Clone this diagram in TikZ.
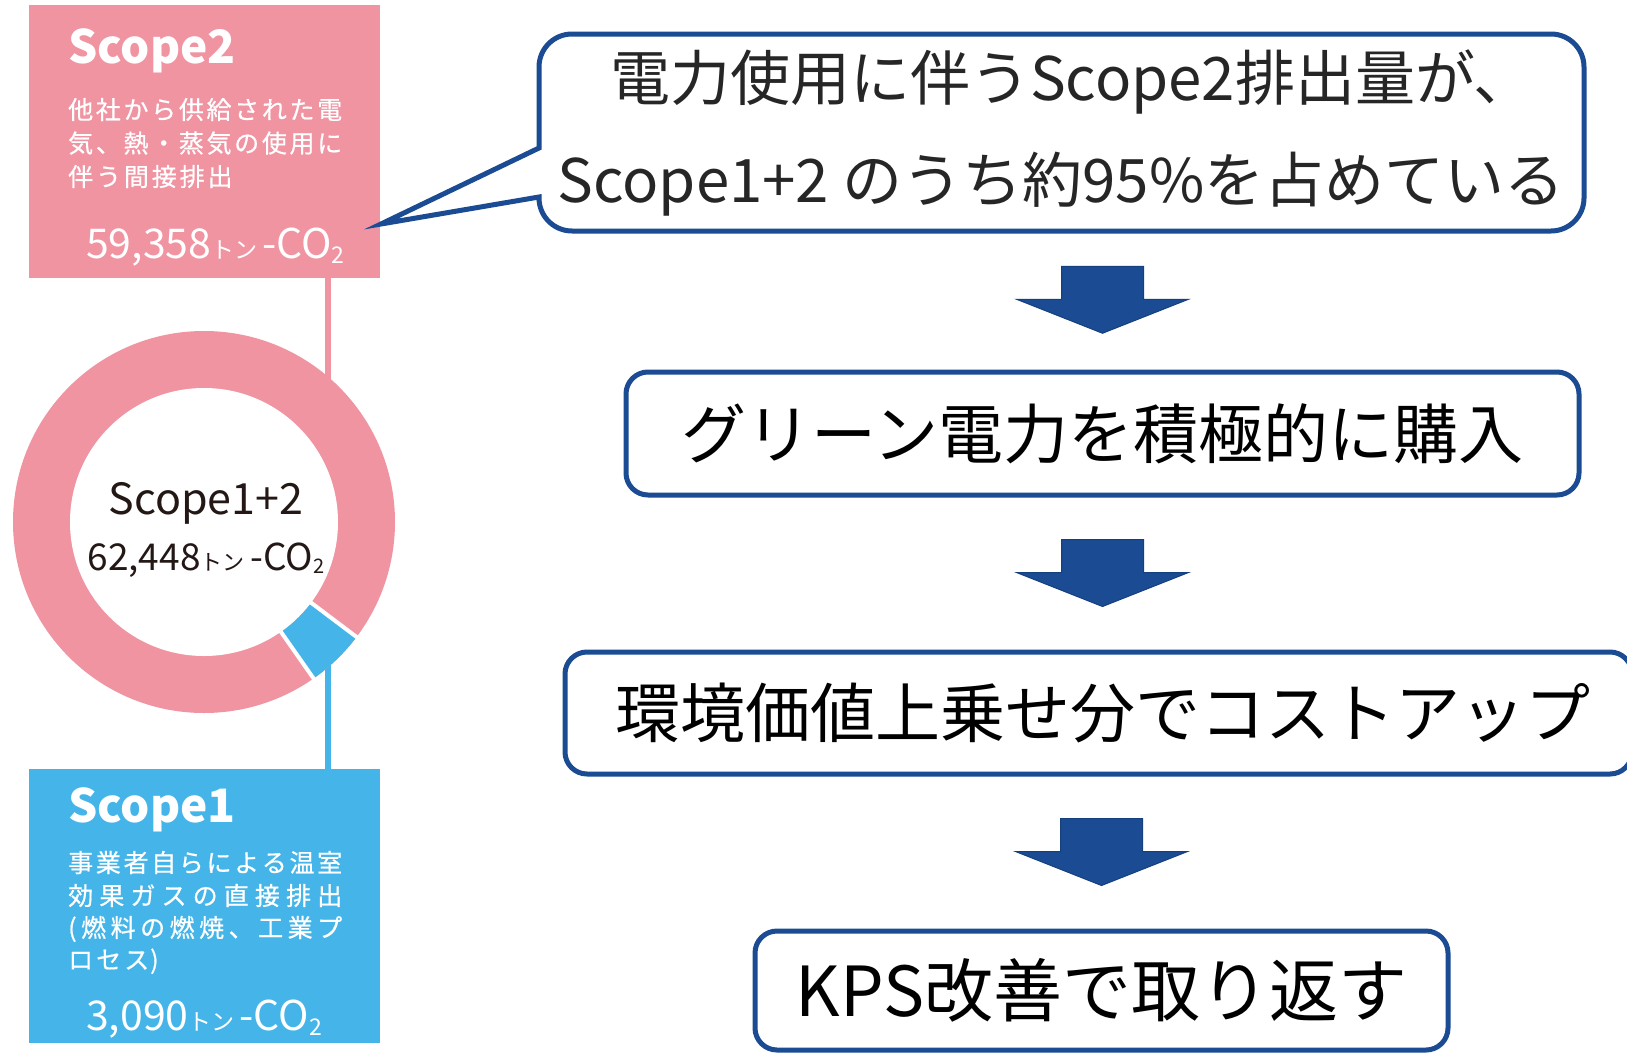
\documentclass[tikz,border=0pt]{standalone}
\usepackage{fontspec}
\setmainfont{Noto Sans CJK JP}
\usetikzlibrary{calc}
\definecolor{pinkc}{RGB}{240,148,162}
\definecolor{cyanc}{RGB}{69,181,233}
\definecolor{navyc}{RGB}{26,75,147}
\definecolor{calltxt}{RGB}{38,38,38}
\definecolor{ringtxt}{RGB}{35,24,21}
\newcommand\spreadln[1]{\makebox[274pt][s]{#1}}
\tikzset{
  panel/.style={inner sep=0, anchor=north west, minimum width=351, minimum height=273},
  heading/.style={inner sep=0, anchor=base west, text=white, font=\fontsize{46}{52}\selectfont\bfseries},
  desc/.style={inner sep=0, anchor=base west, text=white, font=\fontsize{25}{30}\selectfont\addfontfeature{FakeBold=0.6}},
  amount/.style={inner sep=0, anchor=base west, text=white},
  linkline/.style={line width=6},
  flowbox/.style={draw=navyc, line width=5, rounded corners=22, fill=white, inner sep=0,
     text=black, font=\fontsize{65}{78}\selectfont},
  calloutline/.style={draw=navyc, line width=5, fill=white, line join=miter},
  calltext/.style={inner sep=0, text=calltxt, font=\fontsize{60}{72}\selectfont},
  blockarrow/.pic={\path[fill=navyc, draw=navyc!85!black, line width=1]
     (-41,-34) -- (41,-34) -- (41,-1) -- (86,-1) -- (0,33) -- (-86,-1) -- (-41,-1) -- cycle;},
}
\begin{document}
\begin{tikzpicture}[x=1pt,y=-1pt]
\clip (0,0) rectangle (1627,1052);
\fill[white] (0,0) rectangle (1627,1052);

% ---- Scope2 panel
\node[panel, fill=pinkc] (s2) at (29,5) {};
\node[heading] (s2h) at (68,63) {Scope2};
\node[desc] (s2d1) at (68,119) {\spreadln{他\hfil 社\hfil か\hfil ら\hfil 供\hfil 給\hfil さ\hfil れ\hfil た\hfil 電}};
\node[desc] (s2d2) at (68,152.5) {\spreadln{気\hfil 、\hfil 熱\hfil ・\hfil 蒸\hfil 気\hfil の\hfil 使\hfil 用\hfil に}};
\node[desc] (s2d3) at (68,186) {\makebox[164.4pt][s]{伴\hfil う\hfil 間\hfil 接\hfil 排\hfil 出}\hphantom{x}};
\node[amount] (s2a) at (86,258) {\fontsize{41}{48}\selectfont 59,358{\fontsize{23}{26}\selectfont トン}\hspace{5pt}-CO\raisebox{-5pt}{\fontsize{23}{26}\selectfont 2}};

% ---- Scope1 panel
\node[panel, fill=cyanc, minimum height=274] (s1) at (29,769) {};
\node[heading] (s1h) at (68,822) {Scope1};
\node[desc] (s1d1) at (68,872) {\spreadln{事\hfil 業\hfil 者\hfil 自\hfil ら\hfil に\hfil よ\hfil る\hfil 温\hfil 室}};
\node[desc] (s1d2) at (68,905) {\spreadln{効\hfil 果\hfil ガ\hfil ス\hfil の\hfil 直\hfil 接\hfil 排\hfil 出}};
\node[desc] (s1d3) at (68,937) {\spreadln{(\hfil 燃\hfil 料\hfil の\hfil 燃\hfil 焼\hfil 、\hfil 工\hfil 業\hfil プ}};
\node[desc] (s1d4) at (68,969) {ロ\hspace{3pt}セ\hspace{3pt}ス\hspace{1pt})};
\node[amount] (s1a) at (86,1030) {\fontsize{41}{48}\selectfont 3,090{\fontsize{23}{26}\selectfont トン}\hspace{5pt}-CO\raisebox{-5pt}{\fontsize{23}{26}\selectfont 2}};

% ---- connector lines
\coordinate (donut) at (204,522);
\coordinate (s2link) at (328,278);
\coordinate (ringtop) at (328,395);
\coordinate (ringbot) at (328,650);
\coordinate (s1link) at (328,769);
\draw[linkline, pinkc] (s2link) -- (ringtop);
\draw[linkline, cyanc] (ringbot) -- (s1link);

% ---- donut
\fill[pinkc] (donut) circle[radius=191];
\fill[cyanc] ($(donut)+(37:134)$) -- ($(donut)+(37:191)$) arc[start angle=37,end angle=55,radius=191]
   -- ($(donut)+(55:134)$) arc[start angle=55,end angle=37,radius=134] -- cycle;
\fill[white] (donut) circle[radius=134];
\draw[white, line width=4] ($(donut)+(37:130)$) -- ($(donut)+(37:196)$);
\draw[white, line width=4] ($(donut)+(55:130)$) -- ($(donut)+(55:196)$);
\node[inner sep=0, text=ringtxt, font=\fontsize{43}{50}\selectfont] (rt1) at (206,503) {Scope1+2};
\node[inner sep=0, text=ringtxt] (rt2) at (206,560) {\fontsize{37}{42}\selectfont 62,448{\fontsize{22}{24}\selectfont トン}\hspace{6pt}-CO\raisebox{-3pt}{\fontsize{20}{22}\selectfont 2}};

% ---- callout
\draw[calloutline] (381,224) -- (539,148) -- (539,67) arc[start angle=180,end angle=270,radius=33]
   -- (1551,34) arc[start angle=270,end angle=360,radius=33]
   -- (1584,198) arc[start angle=0,end angle=90,radius=33]
   -- (572,231) arc[start angle=90,end angle=180,radius=33] -- (539,197) -- cycle;
\coordinate (cobot) at (1061,231);
\node[calltext] (c1) at (1072,82) {電力使用に伴うScope2排出量が、};
\node[calltext] (c2) at (1061,184) {Scope1+2 のうち約95\%を占めている};

% ---- flow boxes
\node[flowbox, minimum width=953, minimum height=123] (b2) at (1102.5,433.5) {グリーン電力を積極的に購入};
\node[flowbox, minimum width=1067, minimum height=122] (b3) at (1098.5,713) {\hspace{9pt}環境価値上乗せ分でコストアップ};
\node[flowbox, minimum width=693, minimum height=119, font=\fontsize{69}{80}\selectfont] (b4) at (1101.5,990.5) {\raisebox{-7pt}{KPS改善で取り返す}};

% ---- block arrows
\pic at ($(b2.north)!0.5!(b2.north |- cobot)$) {blockarrow};
\pic at ($(b2.south)!0.5!(b2.south |- b3.north)$) {blockarrow};
\pic at ($(b4.north)!0.5!(b4.north |- b3.south)$) {blockarrow};
\end{tikzpicture}
\end{document}
